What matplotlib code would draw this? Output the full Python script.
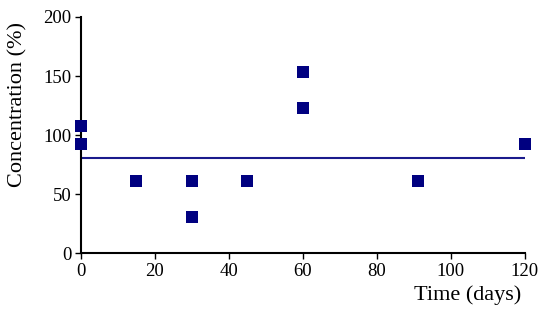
import matplotlib as mpl
mpl.use("Agg")
import matplotlib.pyplot as plt
import numpy as np

plt.rcParams['font.family'] = ['Liberation Serif', 'DejaVu Serif']

# data
time_days = [0, 0, 15, 30, 30, 45, 60, 60, 91, 120]
concentration = [107.7, 92.3, 61.5, 61.5, 30.8, 61.5, 153.8, 123.1, 61.5, 92.3]
mean_line_x = [0, 120]
mean_line_y = [80.8, 80.8]

fig = plt.figure(figsize=(5.4, 3.2), dpi=100)
ax = fig.add_axes([0.15, 0.209, 0.822, 0.738])

ax.plot(mean_line_x, mean_line_y, color='#1a1a8c', lw=1.5, zorder=2)
ax.scatter(time_days, concentration, marker='s', s=64, color='#000080',
           linewidths=0, zorder=3, clip_on=False)

ax.set_xlim(0, 120)
ax.set_ylim(0, 200)
ax.set_xticks([0, 20, 40, 60, 80, 100, 120])
ax.set_yticks([0, 50, 100, 150, 200])
ax.spines['top'].set_visible(False)
ax.spines['right'].set_visible(False)
ax.spines['left'].set_linewidth(1.5)
ax.spines['bottom'].set_linewidth(1.5)
ax.tick_params(direction='out', length=4, width=1, labelsize=13.5, pad=3)

ax.set_ylabel('Concentration (%)', fontsize=16)
ax.set_xlabel('Time (days)', fontsize=16)
ax.xaxis.set_label_coords(0.87, -0.135)
ax.yaxis.set_label_coords(-0.12, 0.63)

fig.savefig('out.png', dpi=100)
